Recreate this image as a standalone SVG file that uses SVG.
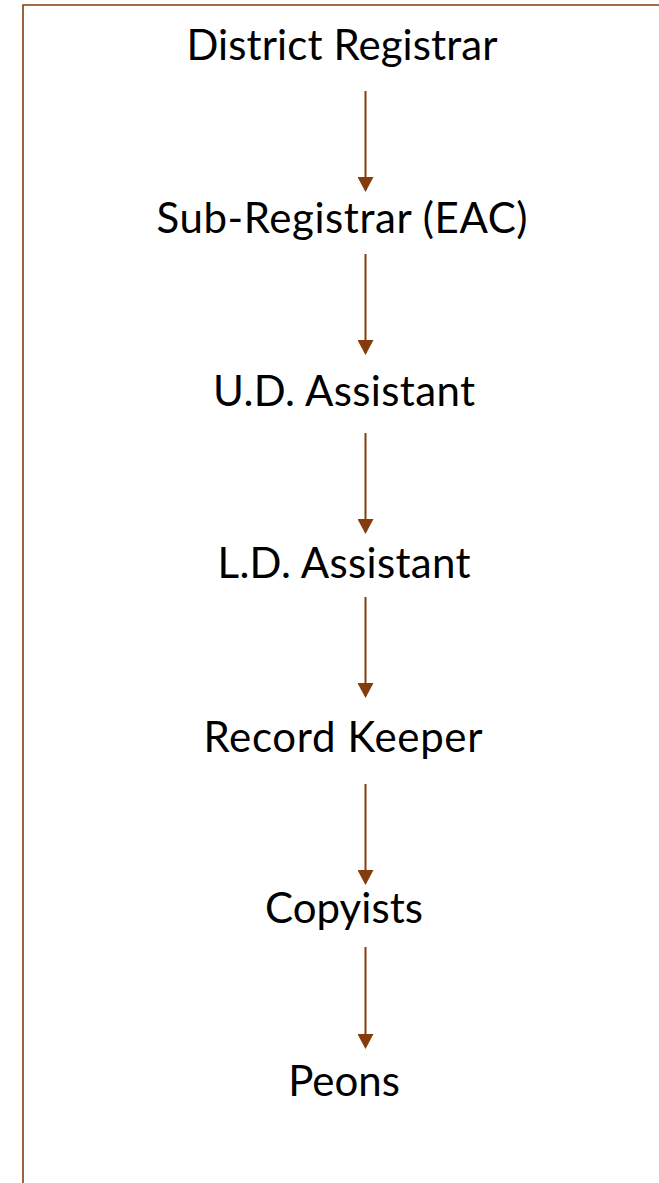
<svg xmlns="http://www.w3.org/2000/svg" width="659" height="1183" viewBox="0 0 659 1183">
<style>
.lbl{font-family:Lato,"Open Sans","Liberation Sans",sans-serif;font-size:42px;fill:#000;text-anchor:middle}
.con{stroke:#843C0C;stroke-width:2;fill:none;marker-end:url(#ah)}
.frame{stroke:#843C0C;stroke-width:1.6;fill:none}
</style>
<defs>
<marker id="ah" markerUnits="userSpaceOnUse" markerWidth="15" markerHeight="16" viewBox="0 0 15 16" refX="13" refY="8" orient="auto">
<path d="M0,0 L15,8 L0,16 z" fill="#843C0C"/>
</marker>
</defs>
<rect width="659" height="1183" fill="#fff"/>
<path class="frame" d="M23,1183 V5 H659"/>
<g id="n1"><text class="lbl" x="342" y="60" textLength="311">District Registrar</text></g>
<g id="n2"><text class="lbl" x="342" y="233" textLength="371">Sub-Registrar (EAC)</text></g>
<g id="n3"><text class="lbl" x="344" y="406" textLength="262">U.D. Assistant</text></g>
<g id="n4"><text class="lbl" x="344" y="578" textLength="253">L.D. Assistant</text></g>
<g id="n5"><text class="lbl" x="343" y="752" textLength="279">Record Keeper</text></g>
<g id="n6"><text class="lbl" x="344" y="923" textLength="158">Copyists</text></g>
<g id="n7"><text class="lbl" x="344" y="1096">Peons</text></g>
<g id="connectors">
<line class="con" x1="365.5" y1="91" x2="365.5" y2="190"/>
<line class="con" x1="365.5" y1="254" x2="365.5" y2="353"/>
<line class="con" x1="365.5" y1="433" x2="365.5" y2="532"/>
<line class="con" x1="365.5" y1="597" x2="365.5" y2="696"/>
<line class="con" x1="365.5" y1="784" x2="365.5" y2="883"/>
<line class="con" x1="365.5" y1="947" x2="365.5" y2="1047"/>
</g>
</svg>
